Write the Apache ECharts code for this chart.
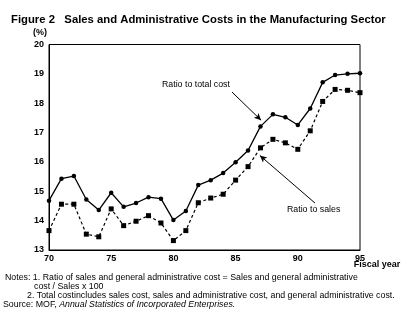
<!DOCTYPE html>
<html><head><meta charset="utf-8">
<script src="https://cdn.jsdelivr.net/npm/echarts@6/dist/echarts.min.js"></script>
<style>html,body{margin:0;padding:0;background:#fff}#c{width:409px;height:321px}</style>
</head><body><div id="c"></div>
<script>
const years = [70,71,72,73,74,75,76,77,78,79,80,81,82,83,84,85,86,87,88,89,90,91,92,93,94,95];
const ratioToTotalCost = [14.68,15.43,15.52,14.72,14.36,14.95,14.47,14.60,14.80,14.75,14.02,14.33,15.21,15.38,15.62,15.99,16.39,17.21,17.62,17.52,17.26,17.82,18.71,18.96,19.00,19.02];
const ratioToSales = [13.66,14.56,14.56,13.54,13.45,14.40,13.83,13.98,14.17,13.92,13.32,13.66,14.61,14.77,14.90,15.38,15.84,16.48,16.77,16.65,16.43,17.06,18.06,18.47,18.44,18.36];
const yTicks = [13,14,15,16,17,18,19,20];
const xTicks = [70,75,80,85,90,95];

const FONT = '"Liberation Sans", Arial, sans-serif';
const chart = echarts.init(document.getElementById('c'), null, {renderer:'canvas'});
const pairs = arr => years.map((y,i)=>[y, arr[i]]);

chart.setOption({
  animation:false,
  backgroundColor:'#fff',
  textStyle:{fontFamily:FONT},
  title:{
    text:'Figure 2   Sales and Administrative Costs in the Manufacturing Sector',
    left:6, top:9,
    textStyle:{fontFamily:FONT, fontSize:11.3, fontWeight:'bold', color:'#000'}
  },
  grid:{left:49, right:49, top:44.5, bottom:71, show:true, borderColor:'#000', borderWidth:1, backgroundColor:'transparent'},
  xAxis:{
    type:'value', min:xTicks[0], max:xTicks[xTicks.length-1], interval:5,
    axisLine:{show:true, lineStyle:{color:'#000', width:1}},
    axisTick:{show:false}, splitLine:{show:false},
    axisLabel:{color:'#000', fontSize:9, fontWeight:'bold', margin:4, fontFamily:FONT}
  },
  yAxis:{
    type:'value', min:yTicks[0], max:yTicks[yTicks.length-1], interval:1,
    axisLine:{show:true, lineStyle:{color:'#000', width:1}},
    axisTick:{show:false}, splitLine:{show:false},
    axisLabel:{color:'#000', fontSize:9, fontWeight:'bold', margin:5, fontFamily:FONT},
    name:'(%)', nameLocation:'end', nameGap:7,
    nameTextStyle:{color:'#000', fontSize:9, fontWeight:'bold', align:'right', padding:[0,2,0,0], fontFamily:FONT}
  },
  series:[
    {
      name:'Ratio to total cost', type:'line', data:pairs(ratioToTotalCost),
      symbol:'circle', symbolSize:4.5, showSymbol:true,
      lineStyle:{color:'#000', width:1.3}, itemStyle:{color:'#000'},
      markLine:{
        silent:true, symbol:['none','arrow'], symbolSize:[5,7],
        lineStyle:{color:'#000', width:1, type:'solid'}, label:{show:false},
        data:[
          [{coord:[84.71,18.38]},{coord:[87.05,17.42]}],
          [{coord:[91.38,14.60]},{coord:[86.95,16.22]}]
        ]
      }
    },
    {
      name:'Ratio to sales', type:'line', data:pairs(ratioToSales),
      symbol:'rect', symbolSize:5, showSymbol:true,
      lineStyle:{color:'#000', width:1.2, type:[3,2.5]}, itemStyle:{color:'#000'}
    }
  ]
});

const p1 = chart.convertToPixel({gridIndex:0}, [79.08, 18.62]);
const p2 = chart.convertToPixel({gridIndex:0}, [89.13, 14.36]);
const p95 = chart.convertToPixel({gridIndex:0}, [95, 13]);
const noteStyle = {fontFamily:FONT, fontSize:8.8, fill:'#000'};
chart.setOption({
  graphic:[
    {type:'text', left:p1[0], top:p1[1]-5, style:{text:'Ratio to total cost', fontFamily:FONT, fontSize:8.8, fill:'#000'}},
    {type:'text', left:p2[0], top:p2[1]-5, style:{text:'Ratio to sales', fontFamily:FONT, fontSize:8.8, fill:'#000'}},
    {type:'text', x:p95[0]+17, y:p95[1]+15, style:{text:'Fiscal year', fontFamily:FONT, fontSize:9, fontWeight:'bold', fill:'#000', align:'center', verticalAlign:'middle'}},
    {type:'text', left:5, top:273.5, style:Object.assign({text:'Notes: 1. Ratio of sales and general administrative cost = Sales and general administrative'}, noteStyle)},
    {type:'text', left:34, top:282.5, style:Object.assign({text:'cost / Sales x 100'}, noteStyle)},
    {type:'text', left:27, top:291.5, style:Object.assign({text:'2. Total costincludes sales cost, sales and administrative cost, and general administrative cost.'}, noteStyle)},
    {type:'text', left:3, top:300.5, style:{
      text:'Source: MOF, {i|Annual Statistics of Incorporated Enterprises.}',
      fontFamily:FONT, fontSize:8.8, fill:'#000',
      rich:{i:{fontFamily:FONT, fontSize:8.8, fontStyle:'italic', fill:'#000'}}
    }}
  ]
});
</script>
</body></html>
